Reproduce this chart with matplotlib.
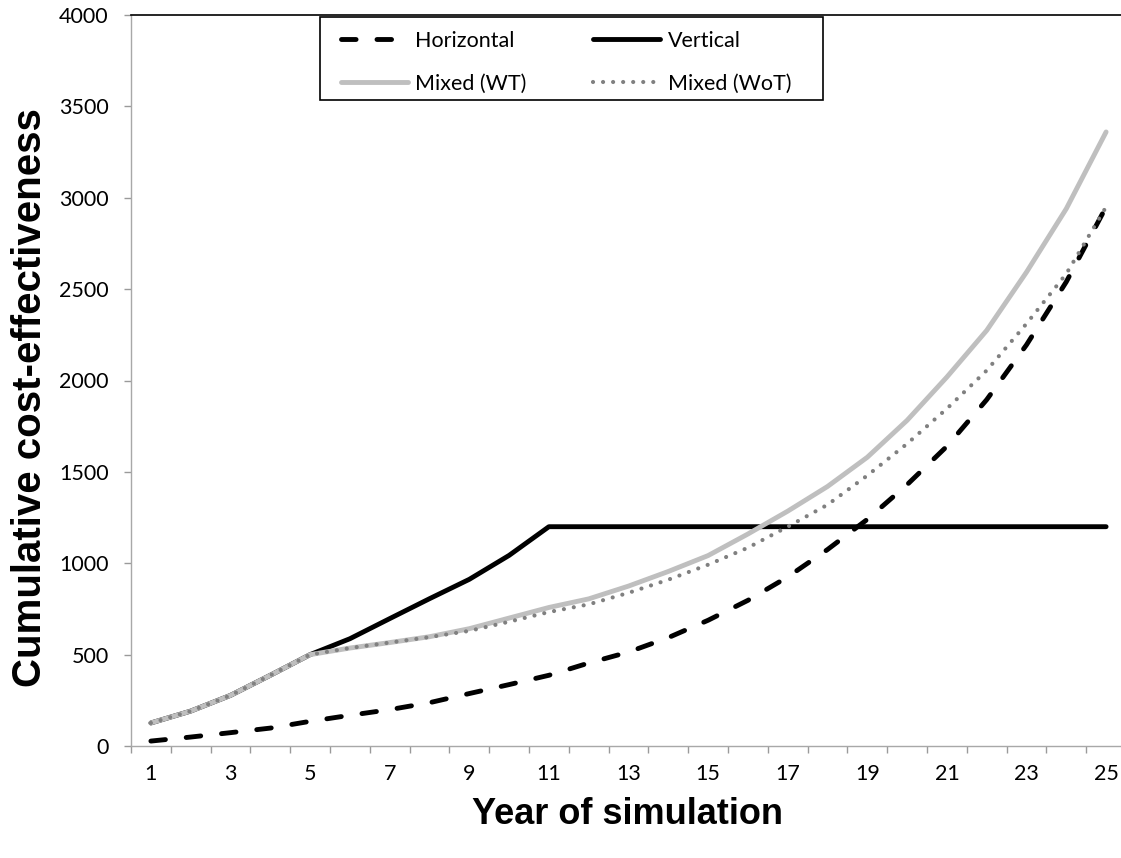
#!/usr/bin/env python3
"""Cumulative cost-effectiveness by year of simulation, four strategies."""

import matplotlib
matplotlib.use("Agg")
import matplotlib.pyplot as plt
from matplotlib.patches import Rectangle
from matplotlib.ticker import FixedLocator

# Values
years = list(range(1, 26))
horizontal = [27, 49, 73, 98, 135, 168, 199, 237, 287, 336, 387, 454, 514,
              593, 688, 797, 925, 1075, 1240, 1430, 1640, 1895, 2195, 2540, 2950]
vertical = [126, 191, 277, 387, 500, 587, 697, 806, 912, 1043, 1200, 1200, 1200,
            1200, 1200, 1200, 1200, 1200, 1200, 1200, 1200, 1200, 1200, 1200, 1200]
mixed_wt = [126, 191, 277, 387, 500, 536, 566, 598, 642, 700, 758, 805, 875,
            955, 1042, 1160, 1285, 1420, 1580, 1782, 2019, 2274, 2593, 2940, 3360]
mixed_wot = [126, 191, 277, 387, 500, 536, 566, 596, 630, 680, 733, 775, 838,
             910, 992, 1085, 1200, 1320, 1480, 1654, 1846, 2055, 2311, 2584, 2950]

y_ticks = list(range(0, 4001, 500))
x_label_years = list(range(1, 26, 2))

W, H = 1121, 858
fig = plt.figure(figsize=(W / 100, H / 100), dpi=100)
ax = fig.add_axes([131 / W, 1 - 746 / H, (1126 - 131) / W, (746 - 15) / H])

tick_font = "Lato"

h_line, = ax.plot(years, horizontal, color="black", lw=3.5,
                  linestyle=(0, (3.0, 4.3)), dash_capstyle="round",
                  label="Horizontal")
v_line, = ax.plot(years, vertical, color="black", lw=3.5,
                  solid_capstyle="round", label="Vertical")
wt_line, = ax.plot(years, mixed_wt, color="#bfbfbf", lw=3.5,
                   solid_capstyle="round", label="Mixed (WT)")
wot_line, = ax.plot(years, mixed_wot, color="#808080", lw=3.0,
                    linestyle=(0, (0.01, 2.4)), dash_capstyle="round",
                    label="Mixed (WoT)")

ax.set_xlim(0.5, 25.5)
ax.set_ylim(0, 4000)

# x: labels on odd years, tick marks between categories
ax.xaxis.set_major_locator(FixedLocator(x_label_years))
ax.xaxis.set_minor_locator(FixedLocator([y + 0.5 for y in range(0, 26)]))
ax.tick_params(axis="x", which="major", length=0, pad=13, labelsize=15.5)
ax.tick_params(axis="x", which="minor", length=5, width=1, color="#9a9a9a",
               direction="out")
ax.set_yticks(y_ticks)
ax.tick_params(axis="y", length=5, width=1, color="#9a9a9a", pad=11,
               labelsize=15.5)
for lbl in ax.get_xticklabels() + ax.get_yticklabels():
    lbl.set_fontfamily(tick_font)

for side in ("left", "bottom"):
    ax.spines[side].set_color("#a8a8a8")
    ax.spines[side].set_linewidth(1.0)
    ax.spines[side].set_linestyle((0, (1, 1)))
ax.spines["top"].set_color("black")
ax.spines["top"].set_linewidth(1.2)
ax.spines["right"].set_visible(False)

# legend: rows Horizontal/Vertical, Mixed (WT)/Mixed (WoT); frame drawn apart
handles = [h_line, wt_line, v_line, wot_line]
ax.legend(handles=handles, labels=[h.get_label() for h in handles],
          loc="upper left", bbox_to_anchor=(341 / W, 1 - 31 / H),
          bbox_transform=fig.transFigure, borderaxespad=0, borderpad=0,
          ncol=2, frameon=False, handlelength=3.1, handletextpad=0.35,
          columnspacing=3.1, labelspacing=1.05,
          prop={"family": tick_font, "size": 15.5})
fig.patches.append(Rectangle((320 / W, 1 - 100 / H), (823 - 320) / W,
                             (100 - 17) / H, transform=fig.transFigure,
                             fill=False, edgecolor="black", lw=1.2, zorder=5))

fig.text(628 / W, 1 - 815 / H, "Year of simulation", ha="center", va="center",
         fontsize=26, fontweight="bold", family="Liberation Sans")
fig.text(30 / W, 1 - 398 / H, "Cumulative cost-effectiveness", ha="center",
         va="center", rotation=90, fontsize=29, fontweight="bold",
         family="Liberation Sans")

fig.savefig("out.png", dpi=100)
